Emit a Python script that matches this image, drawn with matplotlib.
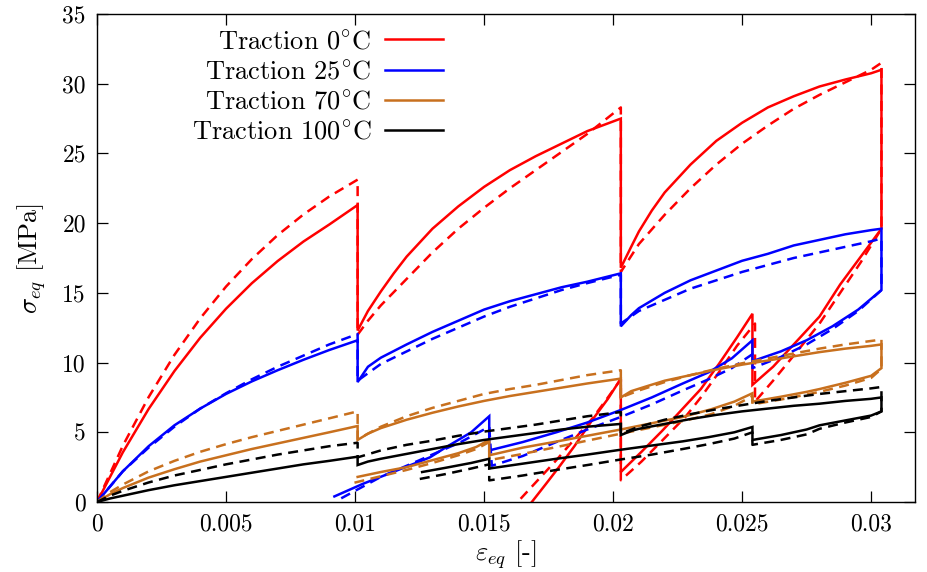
import matplotlib
matplotlib.use("Agg")
import matplotlib.pyplot as plt

plt.rcParams['font.family'] = ['cmr10', 'DejaVu Serif']
plt.rcParams['mathtext.fontset'] = 'cm'
plt.rcParams['axes.formatter.use_mathtext'] = True
plt.rcParams['axes.unicode_minus'] = False

# ---------------- data ----------------
labels = ["Traction 0$^{\\circ}$C", "Traction 25$^{\\circ}$C",
          "Traction 70$^{\\circ}$C", "Traction 100$^{\\circ}$C"]
colors = ["#ff0000", "#0000ff", "#c8701e", "#000000"]

# 0 C experiment (solid)
red_exp_x = [0, 0.001, 0.002, 0.003, 0.004, 0.005, 0.006, 0.007, 0.008, 0.009, 0.0101,
             0.0101, 0.0105, 0.011, 0.0115, 0.012, 0.013, 0.014, 0.015, 0.016, 0.017, 0.018, 0.019, 0.0203,
             0.0203, 0.0207, 0.021, 0.0215, 0.022, 0.023, 0.024, 0.025, 0.026, 0.027, 0.028, 0.029, 0.030, 0.0304,
             0.0304, 0.0296, 0.0288, 0.028, 0.027, 0.0262, 0.0254,
             0.0254, 0.0248, 0.0241, 0.0234, 0.0228, 0.0219, 0.0211, 0.0203,
             0.0203, 0.0198, 0.0192, 0.0185, 0.0179, 0.0174, 0.01685]
red_exp_y = [0, 3.56, 6.67, 9.39, 11.78, 13.86, 15.69, 17.28, 18.68, 19.9, 21.3,
             12.3, 13.7, 15.1, 16.4, 17.6, 19.6, 21.2, 22.6, 23.8, 24.8, 25.7, 26.6, 27.5,
             16.8, 18.3, 19.4, 20.9, 22.2, 24.2, 25.9, 27.2, 28.3, 29.1, 29.8, 30.3, 30.75, 31.0,
             19.6, 17.6, 15.6, 13.3, 11.3, 9.7, 8.4,
             13.5, 11.8, 9.9, 8.1, 6.9, 5.1, 3.6, 2.15,
             8.85, 7.4, 5.9, 4.0, 2.5, 1.3, 0.0]
# 0 C model (dashed)
red_mod_x = [0, 0.001, 0.002, 0.003, 0.004, 0.005, 0.006, 0.007, 0.008, 0.009, 0.0101,
             0.0101, 0.0105, 0.011, 0.012, 0.013, 0.014, 0.015, 0.016, 0.017, 0.018, 0.019, 0.0203,
             0.0203, 0.021, 0.022, 0.023, 0.024, 0.025, 0.026, 0.027, 0.028, 0.029, 0.030, 0.0304,
             0.0304, 0.0296, 0.0288, 0.028, 0.027, 0.0262, 0.0255,
             0.0255, 0.0248, 0.0241, 0.0234, 0.0228, 0.0219, 0.0211, 0.0203,
             0.0203, 0.0198, 0.0192, 0.0185, 0.0178, 0.0171, 0.0163]
red_mod_y = [0, 4.03, 7.52, 10.55, 13.17, 15.45, 17.42, 19.14, 20.62, 21.91, 23.12,
             12.0, 13.0, 14.1, 16.0, 17.9, 19.6, 21.1, 22.5, 23.8, 25.1, 26.4, 28.3,
             16.5, 18.5, 20.6, 22.5, 24.2, 25.7, 27.0, 28.2, 29.2, 30.1, 31.0, 31.5,
             19.6, 17.2, 15.0, 12.8, 10.5, 8.7, 7.2,
             12.8, 11.2, 9.3, 7.5, 6.1, 4.4, 2.9, 1.56,
             8.8, 7.5, 6.0, 4.5, 3.0, 1.6, 0.0]

# 25 C
blue_exp_x = [0, 0.001, 0.002, 0.003, 0.004, 0.005, 0.006, 0.007, 0.008, 0.009, 0.0101,
              0.0101, 0.0105, 0.011, 0.012, 0.013, 0.014, 0.015, 0.016, 0.017, 0.018, 0.019, 0.0203,
              0.0203, 0.0207, 0.021, 0.022, 0.023, 0.024, 0.025, 0.026, 0.027, 0.028, 0.029, 0.030, 0.0304,
              0.0304, 0.0295, 0.0285, 0.0275, 0.0265, 0.0254,
              0.0254, 0.0246, 0.0237, 0.0227, 0.0215, 0.0203, 0.019, 0.0178, 0.0165, 0.0152,
              0.0152, 0.0145, 0.0135, 0.0129, 0.0125, 0.0114, 0.0103, 0.0092]
blue_exp_y = [0, 2.2, 4.0, 5.5, 6.7, 7.75, 8.65, 9.45, 10.2, 10.9, 11.6,
              8.6, 9.7, 10.35, 11.3, 12.2, 13.0, 13.8, 14.4, 14.9, 15.4, 15.8, 16.4,
              12.6, 13.4, 13.9, 15.0, 15.9, 16.6, 17.3, 17.8, 18.4, 18.8, 19.2, 19.5, 19.6,
              15.2, 13.8, 12.6, 11.6, 10.8, 10.1,
              11.6, 10.3, 9.3, 8.5, 7.5, 6.6, 5.7, 5.0, 4.3, 3.7,
              6.15, 5.0, 3.9, 3.2, 2.9, 2.1, 1.3, 0.4]
blue_mod_x = [0, 0.001, 0.002, 0.003, 0.004, 0.005, 0.006, 0.007, 0.008, 0.009, 0.0101,
              0.0101, 0.011, 0.012, 0.013, 0.014, 0.015, 0.016, 0.017, 0.018, 0.019, 0.0203,
              0.0203, 0.021, 0.022, 0.023, 0.024, 0.025, 0.026, 0.027, 0.028, 0.029, 0.030, 0.0304,
              0.0304, 0.0295, 0.0285, 0.0275, 0.0265, 0.0254,
              0.0254, 0.0246, 0.0237, 0.0227, 0.0215, 0.0203, 0.019, 0.0178, 0.0165, 0.0153,
              0.0152, 0.0141, 0.0125, 0.011, 0.0094]
blue_mod_y = [0, 2.2, 3.9, 5.4, 6.7, 7.8, 8.8, 9.7, 10.5, 11.3, 12.05,
              8.7, 9.9, 10.8, 11.7, 12.5, 13.3, 14.0, 14.6, 15.2, 15.7, 16.3,
              12.8, 13.7, 14.5, 15.3, 15.9, 16.5, 17.0, 17.5, 17.9, 18.3, 18.7, 18.9,
              15.2, 13.7, 12.4, 11.3, 10.4, 9.6,
              10.6, 9.6, 8.8, 8.0, 7.0, 6.1, 5.2, 4.3, 3.3, 2.6,
              5.4, 4.3, 3.0, 1.8, 0.2]

# 70 C
orange_exp_x = [0, 0.0005, 0.001, 0.002, 0.003, 0.004, 0.005, 0.006, 0.007, 0.008, 0.009, 0.0101,
                0.0101, 0.0105, 0.011, 0.012, 0.013, 0.014, 0.015, 0.016, 0.017, 0.018, 0.019, 0.0203,
                0.0203, 0.0207, 0.0213, 0.022, 0.023, 0.024, 0.025, 0.026, 0.027, 0.028, 0.029, 0.030, 0.0304,
                0.0304, 0.030, 0.029, 0.028, 0.0275, 0.0265, 0.0254,
                0.0254, 0.0247, 0.0238, 0.0227, 0.0215, 0.0203, 0.019, 0.0177, 0.0165, 0.0152,
                0.0152, 0.0147, 0.014, 0.013, 0.012, 0.011, 0.0101]
orange_exp_y = [0, 0.55, 1.0, 1.75, 2.35, 2.9, 3.35, 3.8, 4.2, 4.6, 5.0, 5.45,
                4.45, 4.9, 5.3, 5.9, 6.4, 6.85, 7.25, 7.6, 7.9, 8.2, 8.5, 8.85,
                7.5, 7.95, 8.3, 8.7, 9.1, 9.5, 9.85, 10.15, 10.45, 10.75, 11.0, 11.2, 11.3,
                9.6, 9.05, 8.55, 8.1, 7.9, 7.55, 7.2,
                7.8, 7.2, 6.65, 6.1, 5.65, 5.2, 4.75, 4.3, 3.9, 3.35,
                4.45, 3.95, 3.5, 3.0, 2.5, 2.15, 1.8]
orange_mod_x = [0, 0.0005, 0.001, 0.002, 0.003, 0.004, 0.005, 0.006, 0.007, 0.008, 0.009, 0.0101,
                0.0101, 0.011, 0.012, 0.013, 0.014, 0.015, 0.016, 0.017, 0.018, 0.019, 0.0203,
                0.0203, 0.021, 0.022, 0.023, 0.024, 0.025, 0.026, 0.027, 0.028, 0.029, 0.030, 0.0304,
                0.0304, 0.030, 0.029, 0.028, 0.0275, 0.0265, 0.0254,
                0.0254, 0.0247, 0.0238, 0.0227, 0.0215, 0.0203, 0.019, 0.0177, 0.0165, 0.0152,
                0.0152, 0.0147, 0.014, 0.013, 0.012, 0.011, 0.0099]
orange_mod_y = [0, 0.7, 1.25, 2.2, 2.95, 3.6, 4.15, 4.65, 5.1, 5.55, 6.0, 6.5,
                4.5, 5.4, 6.15, 6.75, 7.25, 7.75, 8.1, 8.4, 8.75, 9.1, 9.45,
                7.5, 8.0, 8.6, 9.1, 9.55, 9.95, 10.3, 10.65, 11.0, 11.3, 11.55, 11.65,
                9.55, 8.9, 8.35, 7.9, 7.7, 7.35, 7.0,
                7.6, 6.9, 6.3, 5.8, 5.35, 4.9, 4.4, 3.9, 3.45, 3.0,
                4.3, 3.8, 3.35, 2.8, 2.3, 1.85, 1.35]

# 100 C
black_exp_x = [0, 0.0005, 0.001, 0.002, 0.003, 0.004, 0.005, 0.006, 0.007, 0.008, 0.009, 0.0101,
               0.0101, 0.0105, 0.011, 0.012, 0.013, 0.014, 0.015, 0.016, 0.017, 0.018, 0.019, 0.0203,
               0.0203, 0.0207, 0.021, 0.022, 0.023, 0.024, 0.025, 0.026, 0.027, 0.028, 0.029, 0.030, 0.0304,
               0.0304, 0.030, 0.029, 0.028, 0.0275, 0.0265, 0.0254,
               0.0254, 0.0247, 0.0237, 0.0227, 0.0215, 0.0203, 0.019, 0.0178, 0.0165, 0.0152,
               0.0152, 0.0145, 0.0135, 0.0126]
black_exp_y = [0, 0.25, 0.45, 0.85, 1.2, 1.5, 1.8, 2.1, 2.4, 2.7, 2.95, 3.25,
               2.65, 2.9, 3.1, 3.45, 3.8, 4.15, 4.45, 4.7, 4.95, 5.2, 5.4, 5.6,
               4.8, 5.1, 5.25, 5.6, 5.95, 6.25, 6.5, 6.7, 6.9, 7.05, 7.25, 7.4, 7.5,
               6.5, 6.2, 5.85, 5.5, 5.2, 4.8, 4.45,
               5.38, 5.0, 4.65, 4.35, 4.05, 3.75, 3.4, 3.1, 2.75, 2.4,
               3.1, 2.8, 2.45, 2.15]
black_mod_x = [0, 0.0005, 0.001, 0.002, 0.003, 0.004, 0.005, 0.006, 0.007, 0.008, 0.009, 0.0101,
               0.0101, 0.011, 0.012, 0.013, 0.014, 0.015, 0.016, 0.017, 0.018, 0.019, 0.0203,
               0.0203, 0.021, 0.022, 0.023, 0.024, 0.025, 0.026, 0.027, 0.028, 0.029, 0.030, 0.0304,
               0.0304, 0.030, 0.029, 0.028, 0.0275, 0.0265, 0.0254,
               0.0254, 0.0247, 0.0237, 0.0227, 0.0215, 0.0203, 0.019, 0.0178, 0.0165, 0.0152,
               0.0152, 0.0145, 0.0135, 0.0125]
black_mod_y = [0, 0.45, 0.8, 1.4, 1.9, 2.3, 2.7, 3.05, 3.4, 3.7, 4.0, 4.25,
               3.2, 3.7, 4.1, 4.4, 4.75, 5.05, 5.3, 5.55, 5.85, 6.15, 6.45,
               4.9, 5.4, 5.9, 6.3, 6.65, 6.95, 7.25, 7.5, 7.75, 7.95, 8.15, 8.25,
               6.5, 6.1, 5.7, 5.25, 4.85, 4.45, 4.1,
               5.0, 4.55, 4.15, 3.8, 3.4, 3.05, 2.65, 2.3, 1.9, 1.55,
               2.7, 2.4, 2.0, 1.65]

x_ticks = [0, 0.005, 0.01, 0.015, 0.02, 0.025, 0.03]
x_tick_labels = ["0", "0.005", "0.01", "0.015", "0.02", "0.025", "0.03"]
y_ticks = [0, 5, 10, 15, 20, 25, 30, 35]

# ---------------- figure ----------------
fig = plt.figure(figsize=(9.28, 5.72), dpi=100)
ax = fig.add_axes([97 / 928, 1 - 502 / 572, (915 - 97) / 928, (502 - 14) / 572])

series = [
    (red_exp_x, red_exp_y, red_mod_x, red_mod_y),
    (blue_exp_x, blue_exp_y, blue_mod_x, blue_mod_y),
    (orange_exp_x, orange_exp_y, orange_mod_x, orange_mod_y),
    (black_exp_x, black_exp_y, black_mod_x, black_mod_y),
]
lw = 1.8
handles = []
for (ex, ey, mx, my), col, lab in zip(series, colors, labels):
    h, = ax.plot(ex, ey, color=col, lw=lw, solid_joinstyle='miter', label=lab)
    ax.plot(mx, my, color=col, lw=lw, linestyle=(0, (4, 2.6)))
    handles.append(h)

ax.set_xlim(0, 0.0317)
ax.set_ylim(0, 35)
ax.set_xticks(x_ticks)
ax.set_xticklabels(x_tick_labels)
ax.set_yticks(y_ticks)
ax.set_yticklabels([str(v) for v in y_ticks])
ax.tick_params(direction='in', length=8, width=0.9, top=True, right=True,
               labelsize=17, pad=8)
for s in ax.spines.values():
    s.set_linewidth(1.0)

ax.set_xlabel(r"$\varepsilon_{eq}$ [-]", fontsize=19, labelpad=2)
ax.set_ylabel(r"$\sigma_{eq}$ [MPa]", fontsize=19, labelpad=10)

leg = ax.legend(handles=handles, loc='upper right',
                bbox_to_anchor=((443 - 97) / 818, (502 - 30) / 488),
                markerfirst=False, frameon=False, fontsize=19,
                handlelength=2.2, handletextpad=0.5, labelspacing=0.24,
                borderaxespad=0.0, borderpad=0.0)

fig.savefig("out.png", dpi=100)
